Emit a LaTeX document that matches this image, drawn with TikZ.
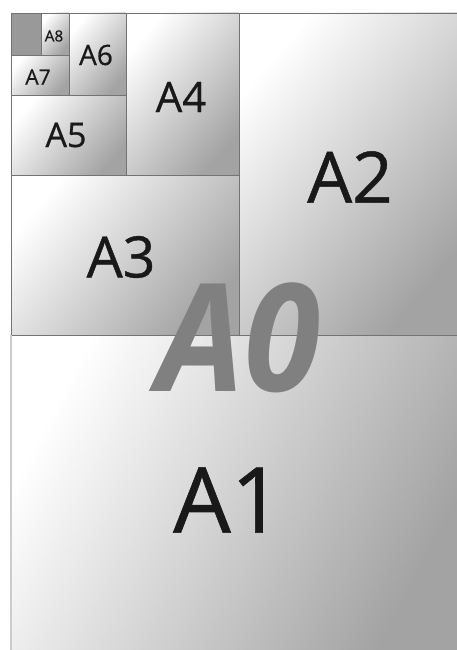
\documentclass[tikz,border=0pt]{standalone}
\usepackage{fontspec}
\setmainfont{Open Sans}
\newfontfamily\lblfont[FakeBold=0.7]{Open Sans}
\begin{document}
\begin{tikzpicture}[x=1pt,y=-1pt,
  sheet/.style={draw=black!55,line width=0.9pt,top color=white,middle color=black!10,bottom color=black!36,shading angle=50},
  lbl/.style={inner sep=0pt,text=black!90}]
\useasboundingbox[fill=white] (0,0) rectangle (457,650);
% sheets
\shade[sheet,shading angle=62] (11,335) rectangle (457,650);
\shade[sheet] (239,13) rectangle (457,335);
\shade[sheet] (11,175) rectangle (239,335);
\shade[sheet] (126,13) rectangle (239,175);
\shade[sheet] (11,95) rectangle (126,175);
\shade[sheet] (69,13) rectangle (126,95);
\shade[sheet] (11,55) rectangle (69,95);
\shade[sheet] (41,13) rectangle (69,55);
\filldraw[draw=black!55,line width=0.9pt,fill=black!40] (11,13) rectangle (41,55);
\draw[black!20,line width=1.5pt] (11,335) -- (11,650);
% labels
\node[lbl,font=\lblfont\fontsize{91}{91}\selectfont] (a1) at (228,500) {A1};
\node[lbl,font=\lblfont\fontsize{71}{71}\selectfont] (a2) at (350,177) {A2};
\node[lbl,font=\lblfont\fontsize{57}{57}\selectfont] (a3) at (121,257) {A3};
\node[lbl,font=\lblfont\fontsize{42}{42}\selectfont] (a4) at (181,97) {A4};
\node[lbl,font=\lblfont\fontsize{34}{34}\selectfont] (a5) at (66,135) {A5};
\node[lbl,font=\lblfont\fontsize{28}{28}\selectfont] (a6) at (96,55) {A6};
\node[lbl,font=\lblfont\fontsize{21}{21}\selectfont] (a7) at (38,77) {A7};
\node[lbl,font=\lblfont\fontsize{15.4}{15.4}\selectfont] (a8) at (54,36) {A8};
\node[inner sep=0pt,text=black!50,xscale=0.92,font=\fontsize{150}{150}\bfseries\itshape\selectfont] (a0) at (239,338) {A0};
\end{tikzpicture}
\end{document}
